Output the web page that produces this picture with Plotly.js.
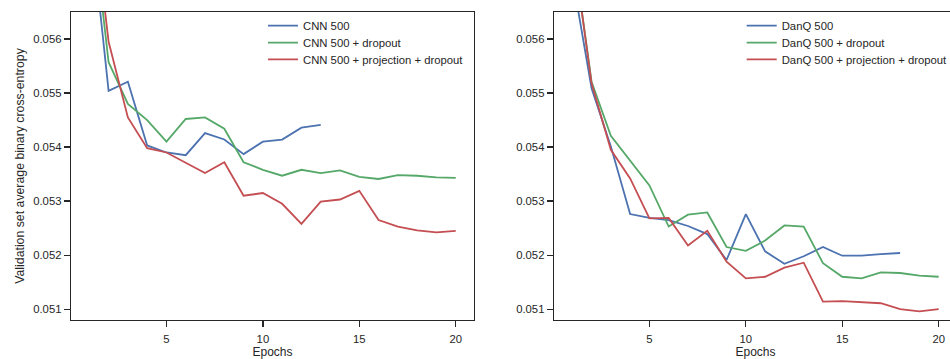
<!DOCTYPE html>
<html>
<head>
<meta charset="utf-8">
<script src="https://cdn.plot.ly/plotly-3.0.1.min.js"></script>
<style>
html, body { margin: 0; padding: 0; overflow: hidden; background: #fff; }
#chart { width: 960px; height: 359px; }
</style>
</head>
<body>
<div id="chart"></div>
<script>
const epochs = [1,2,3,4,5,6,7,8,9,10,11,12,13,14,15,16,17,18,19,20];

const cnnNames = ["CNN 500", "CNN 500 + dropout", "CNN 500 + projection + dropout"];
const danqNames = ["DanQ 500", "DanQ 500 + dropout", "DanQ 500 + projection + dropout"];

const cnn500 = [0.0584, 0.05504, 0.05521, 0.05403, 0.05390, 0.05385, 0.05426, 0.05414, 0.05387, 0.05410, 0.05414, 0.05436, 0.05441];
const cnnDropout = [0.0587, 0.05557, 0.05480, 0.05450, 0.05410, 0.05452, 0.05455, 0.05434, 0.05372, 0.05358, 0.05347, 0.05358, 0.05352, 0.05357, 0.05345, 0.05341, 0.05348, 0.05347, 0.05344, 0.05343];
const cnnProjDropout = [0.0590, 0.05595, 0.05455, 0.05398, 0.05390, 0.05371, 0.05352, 0.05372, 0.05310, 0.05315, 0.05295, 0.05258, 0.05299, 0.05303, 0.05319, 0.05265, 0.05253, 0.05246, 0.05242, 0.05245];

const danq500 = [0.05716, 0.05509, 0.05401, 0.05276, 0.05269, 0.05265, 0.05254, 0.05239, 0.05191, 0.05276, 0.05207, 0.05184, 0.05198, 0.05215, 0.05199, 0.05199, 0.05202, 0.05204];
const danqDropout = [0.0578, 0.05521, 0.05421, 0.05374, 0.05329, 0.05253, 0.05275, 0.05279, 0.05215, 0.05208, 0.05227, 0.05255, 0.05253, 0.05185, 0.05160, 0.05157, 0.05168, 0.05167, 0.05162, 0.05160];
const danqProjDropout = [0.05779, 0.05518, 0.05395, 0.05342, 0.05268, 0.05269, 0.05218, 0.05245, 0.05188, 0.05157, 0.05160, 0.05177, 0.05186, 0.05114, 0.05115, 0.05113, 0.05111, 0.05100, 0.05096, 0.05100];

const xTicks = [5, 10, 15, 20];
const yTicks = [0.051, 0.052, 0.053, 0.054, 0.055, 0.056];

const colors = ["#4C72B0", "#55A868", "#C44E52"];
const FONT = "Liberation Sans, Arial, Helvetica, sans-serif";
const TXT = "#262626";

function line(y, name, color, xa, ya, leg) {
  return {
    x: epochs.slice(0, y.length), y: y, name: name, type: "scatter", mode: "lines",
    line: {color: color, width: 1.8}, xaxis: xa, yaxis: ya, legend: leg
  };
}

const traces = [
  line(cnn500, cnnNames[0], colors[0], "x", "y", "legend"),
  line(cnnDropout, cnnNames[1], colors[1], "x", "y", "legend2"),
  line(cnnProjDropout, cnnNames[2], colors[2], "x", "y", "legend3"),
  line(danq500, danqNames[0], colors[0], "x2", "y2", "legend4"),
  line(danqDropout, danqNames[1], colors[1], "x2", "y2", "legend5"),
  line(danqProjDropout, danqNames[2], colors[2], "x2", "y2", "legend6")
];

function xax(domain, anchor) {
  return {
    domain: domain, anchor: anchor, range: [0.05, 20.95],
    tickmode: "array", tickvals: xTicks, ticktext: xTicks.map(String),
    ticks: "outside", ticklen: 6, tickwidth: 1.25, tickcolor: TXT,
    ticklabelstandoff: 2,
    showline: true, linecolor: TXT, linewidth: 1.25, mirror: true,
    showgrid: false, zeroline: false,
    tickfont: {family: FONT, size: 11.3, color: TXT},
    title: {text: "Epochs", font: {family: FONT, size: 12, color: TXT}, standoff: 6}
  };
}
function yax(anchor, title) {
  const a = {
    anchor: anchor, range: [0.0508, 0.0565],
    tickmode: "array", tickvals: yTicks, ticktext: yTicks.map(v => v.toFixed(3)),
    ticks: "outside", ticklen: 6, tickwidth: 1.25, tickcolor: TXT,
    showline: true, linecolor: TXT, linewidth: 1.25, mirror: true,
    showgrid: false, zeroline: false,
    tickfont: {family: FONT, size: 11.3, color: TXT}
  };
  if (title) a.title = {text: title, font: {family: FONT, size: 12.3, color: TXT}, standoff: 6};
  return a;
}

function leg(x, y) {
  return {
    xref: "paper", yref: "paper", xanchor: "left", yanchor: "middle", x: x, y: y,
    bgcolor: "rgba(0,0,0,0)", borderwidth: 0,
    font: {family: FONT, size: 11.3, color: TXT}, itemwidth: 30
  };
}
const legRows = [0.9555, 0.9003, 0.8464];

const layout = {
  width: 960, height: 359,
  margin: {l: 71, r: 3, t: 12, b: 39},
  paper_bgcolor: "#fff", plot_bgcolor: "#fff",
  font: {family: FONT, size: 11, color: TXT},
  xaxis: xax([0, 0.4549], "y"),
  yaxis: yax("x", "Validation set average binary cross-entropy"),
  xaxis2: xax([0.5451, 1], "y2"),
  yaxis2: yax("x2", null),
  legend: leg(0.2167, legRows[0]),
  legend2: leg(0.2167, legRows[1]),
  legend3: leg(0.2167, legRows[2]),
  legend4: leg(0.757, legRows[0]),
  legend5: leg(0.757, legRows[1]),
  legend6: leg(0.757, legRows[2]),
  showlegend: true
};

Plotly.newPlot("chart", traces, layout, {displayModeBar: false, staticPlot: true});
</script>
</body>
</html>
